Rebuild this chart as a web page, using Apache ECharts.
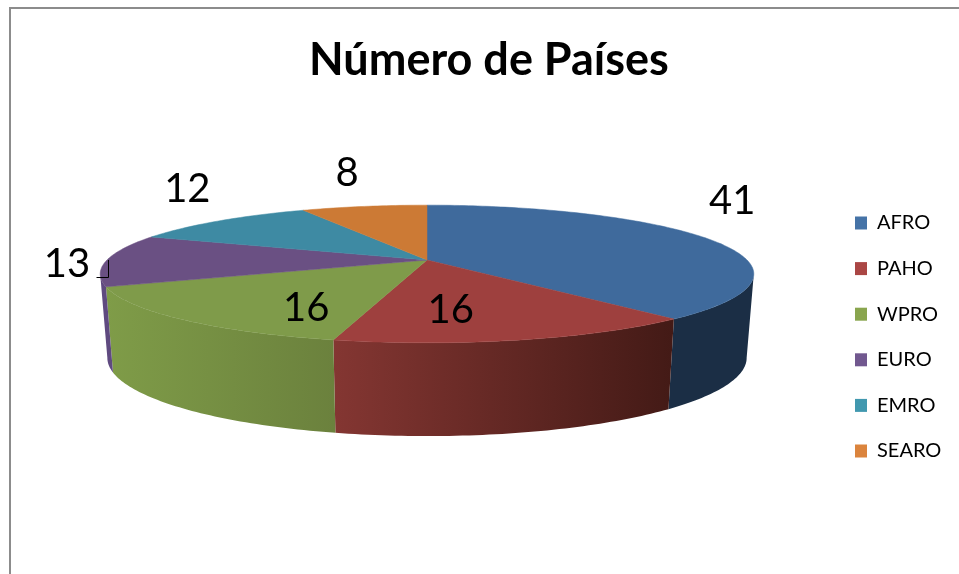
<!DOCTYPE html>
<html>
<head>
<meta charset="utf-8">
<title>Número de Países</title>
<style>
html, body { margin: 0; padding: 0; background: #fff; }
#main { width: 959px; height: 574px; }
</style>
<script src="https://cdn.jsdelivr.net/npm/echarts@6/dist/echarts.min.js"></script>
</head>
<body>
<div id="main"></div>
<script>
const regions = ['AFRO', 'PAHO', 'WPRO', 'EURO', 'EMRO', 'SEARO'];
const countries = [41, 16, 16, 13, 12, 8];

const legendColors = ['#4573a7', '#aa4644', '#89a54e', '#71588f', '#4198af', '#db843d'];
const topColors = ['#3f6a9c', '#9e403e', '#7f9b4a', '#6a5083', '#3e8aa3', '#cc7a35'];
const wallLeft = ['#1b2e45', '#843632', '#7f9c48', '#5f4a80', '#2f6a7f', '#a05f28'];
const wallRight = ['#1b2e45', '#431a16', '#6b813d', '#5f4a80', '#2f6a7f', '#a05f28'];
// label shift in px from the middle of each slice's rim
const labelShift = [[25, -37], [-70, -30], [126, -11], [-40, 4], [-32, -32], [-17, -33]];

const FONT = 'Lato, "Open Sans", sans-serif';
const total = countries.reduce((a, b) => a + b, 0);

// the tilted pie: a circle seen in perspective, near side is bigger
const topRing = { cx: 427, cy: 260, rx: 320, ry: 66 };
const bottomRing = { cx: 427, cy: 342, rx: 313, ry: 75 };
const perspective = 0.203;
// part of the turn where the outer wall faces the viewer
const frontFrom = 0.2825;
const frontTo = 0.7175;

function project(ring, turn) {
    const a = turn * 2 * Math.PI;
    const u = Math.sin(a);
    const v = -Math.cos(a);
    const s = 1 / (1 - perspective * v);
    return [ring.cx + ring.rx * u * s, ring.cy + ring.ry * v * s];
}

function arc(ring, from, to) {
    const n = Math.max(2, Math.ceil((to - from) * 360));
    const pts = [];
    for (let i = 0; i <= n; i++) {
        pts.push(project(ring, from + (to - from) * i / n));
    }
    return pts;
}

function sliceRenderer(index) {
    return function (params, api) {
        const value = api.value(0);
        const before = countries.slice(0, index).reduce((a, b) => a + b, 0);
        const from = before / total;
        const to = (before + value) / total;
        const rimMid = project(topRing, (from + to) / 2);
        const shift = labelShift[index];
        const children = [];

        const wallFrom = Math.max(from, frontFrom);
        const wallTo = Math.min(to, frontTo);
        if (wallTo > wallFrom) {
            children.push({
                type: 'polygon',
                z2: index,
                shape: { points: arc(topRing, wallFrom, wallTo).concat(arc(bottomRing, wallFrom, wallTo).reverse()) },
                style: {
                    fill: new echarts.graphic.LinearGradient(0, 0, 1, 0, [
                        { offset: 0, color: wallLeft[index] },
                        { offset: 1, color: wallRight[index] }
                    ])
                }
            });
        }
        children.push({
            type: 'polygon',
            z2: 20 + index,
            shape: { points: [[topRing.cx, topRing.cy]].concat(arc(topRing, from, to)) },
            style: { fill: topColors[index], stroke: topColors[index], lineWidth: 0.5 }
        }, {
            type: 'text',
            z2: 40,
            style: {
                x: rimMid[0] + shift[0],
                y: rimMid[1] + shift[1],
                text: String(value),
                font: '40px ' + FONT,
                fill: '#000',
                align: 'center',
                verticalAlign: 'middle'
            }
        });
        return { type: 'group', children: children };
    };
}

const chart = echarts.init(document.getElementById('main'));
chart.setOption({
    animation: false,
    color: legendColors,
    title: {
        text: 'Número de Países',
        left: 484,
        textAlign: 'center',
        top: 33,
        textStyle: { fontFamily: FONT, fontSize: 45, fontWeight: 'bold', color: '#000' }
    },
    legend: {
        orient: 'vertical',
        left: 850,
        top: 208,
        icon: 'rect',
        itemWidth: 12,
        itemHeight: 13,
        itemGap: 25.6,
        selectedMode: false,
        textStyle: { fontFamily: FONT, fontSize: 20, color: '#000', padding: [0, 0, 0, 5] },
        data: regions
    },
    graphic: [
        { type: 'polyline', shape: { points: [[10, 574], [10, 8], [959, 8]] }, style: { stroke: '#8c8c8c', lineWidth: 2, fill: 'none' } },
        { type: 'polyline', z: 10, shape: { points: [[96.5, 277.5], [108.5, 277.5], [108.5, 260]] }, style: { stroke: '#000', lineWidth: 1, fill: 'none' } }
    ],
    series: regions.map((name, i) => ({
        type: 'custom',
        name: name,
        coordinateSystem: 'none',
        silent: true,
        renderItem: sliceRenderer(i),
        data: [[countries[i]]]
    }))
});
</script>
</body>
</html>
